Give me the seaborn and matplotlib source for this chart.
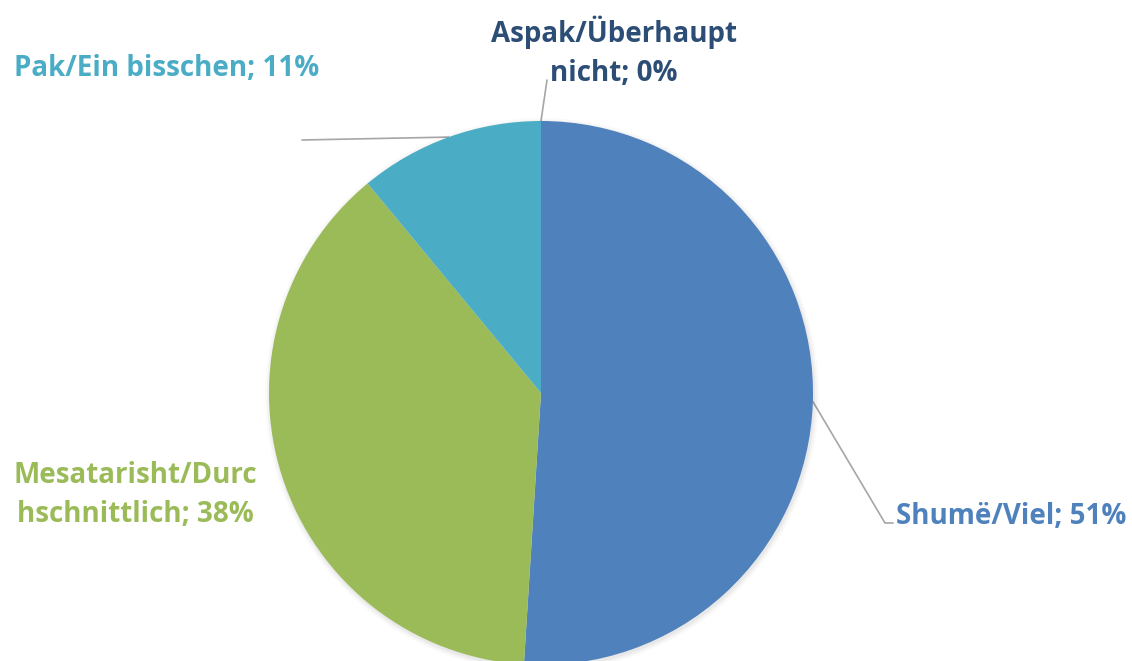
import numpy as np
import matplotlib.pyplot as plt
import seaborn as sns

sns.set_theme(style="white")
plt.rcParams['font.family'] = ['Open Sans', 'DejaVu Sans']

categories = ["Shumë/Viel", "Mesatarisht/Durc\nhschnittlich", "Pak/Ein bisschen", "Aspak/Überhaupt\nnicht"]
shares = [51, 38, 11, 0]
colors = ["#4F81BD", "#9BBB59", "#4BACC6", "#1F497D"]
label_colors = ["#4F81BD", "#9BBB59", "#4BACC6", "#2C4D75"]

W, H = 1132, 661
fig = plt.figure(figsize=(W / 100, H / 100), dpi=100)
ax = fig.add_axes([0, 0, 1, 1])

cx, cy, r = 541, H - 393, 272

# soft shadow
for k, a in enumerate([0.04, 0.03, 0.02]):
    ax.add_patch(plt.Circle((cx + 1, cy - 2), r + 1 + 2 * k, color="black", alpha=a, lw=0))

wedges, _ = ax.pie(shares, colors=colors, startangle=90, counterclock=False,
                   center=(cx, cy), radius=r, frame=True,
                   wedgeprops=dict(linewidth=0))
ax.set_xlim(0, W)
ax.set_ylim(0, H)
ax.set_aspect("equal")
ax.axis("off")

# label positions (pixels from top-left), leader-line elbows
text_pos = [(896, 516, "left"), (135, 495, "center"), (14, 68, "left"), (614, 52, "center")]
elbows = [[(885, 523), (893, 523)], None, [(302, 140)], [(547, 80)]]

for i, w in enumerate(wedges):
    mid = np.deg2rad((w.theta1 + w.theta2) / 2)
    anchor = (cx + r * np.cos(mid), cy + r * np.sin(mid))
    tx, ty, ha = text_pos[i]
    ax.text(tx, H - ty, f"{categories[i]}; {shares[i]}%", color=label_colors[i],
            fontsize=20, fontweight="bold", ha=ha, va="center", linespacing=1.45)
    if elbows[i]:
        pts = [anchor] + [(x, H - y) for x, y in elbows[i]]
        xs, ys = zip(*pts)
        ax.plot(xs, ys, color="#A6A6A6", lw=1.2, zorder=0.5)

fig.savefig("out.png", dpi=100)
